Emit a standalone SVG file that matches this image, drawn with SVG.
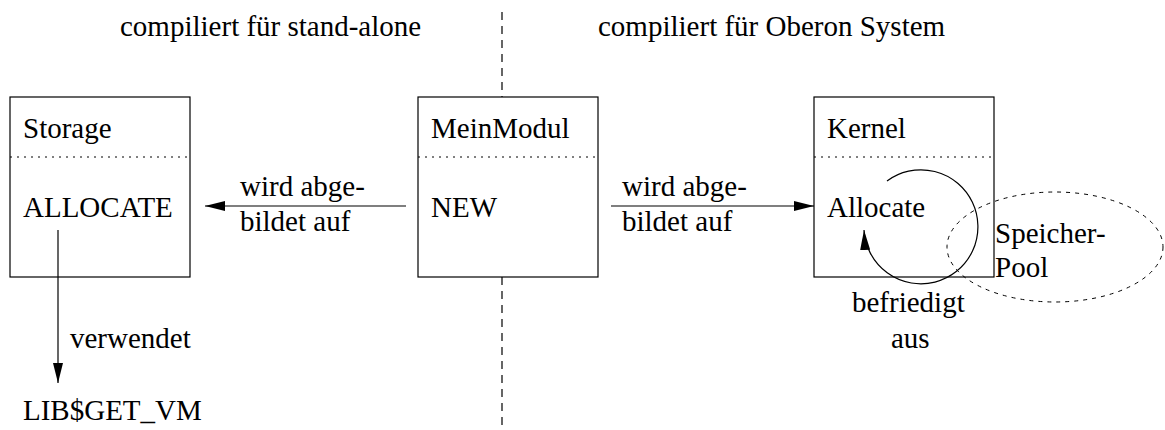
<svg xmlns="http://www.w3.org/2000/svg" width="1165" height="430" viewBox="0 0 1165 430">
<style>
.box{fill:none;stroke:#000;stroke-width:1.2}
.sep{fill:none;stroke:#000;stroke-width:1;stroke-dasharray:2 5}
.line{fill:none;stroke:#000;stroke-width:1.2}
.t{font-family:'Liberation Serif','Times New Roman',Times,serif;font-size:29px;fill:#000}
</style>
<defs>
<marker id="ah" viewBox="0 0 20 10" refX="20" refY="5" markerWidth="20" markerHeight="10" markerUnits="userSpaceOnUse" orient="auto">
<path d="M0,0 L20,5 L0,10 Z" fill="#000"/>
</marker>
</defs>
<rect width="1165" height="430" fill="#fff"/>
<g id="titles">
<text class="t" x="120" y="36">compiliert für stand-alone</text>
<text class="t" x="598" y="36">compiliert für Oberon System</text>
</g>
<g id="divider">
<line x1="502" y1="12" x2="502" y2="97" stroke="#000" stroke-width="1.2" stroke-dasharray="8 6"/>
<line x1="502" y1="277" x2="502" y2="430" stroke="#000" stroke-width="1.2" stroke-dasharray="8 6"/>
</g>
<g id="storage">
<rect class="box" x="10" y="97" width="180" height="180"/>
<line class="sep" x1="10" y1="157" x2="190" y2="157"/>
<text class="t" x="23" y="138">Storage</text>
<text class="t" x="23" y="217">ALLOCATE</text>
</g>
<g id="meinmodul">
<rect class="box" x="418" y="97" width="180" height="180"/>
<line class="sep" x1="418" y1="157" x2="598" y2="157"/>
<text class="t" x="431" y="138">MeinModul</text>
<text class="t" x="431" y="217">NEW</text>
</g>
<g id="kernel">
<rect class="box" x="814" y="97" width="180" height="180"/>
<line class="sep" x1="814" y1="157" x2="994" y2="157"/>
<text class="t" x="827" y="138">Kernel</text>
<text class="t" x="827" y="217">Allocate</text>
</g>
<g id="lib">
<text class="t" x="23" y="420">LIB$GET_VM</text>
</g>
<g id="pool">
<ellipse cx="1055" cy="247" rx="108" ry="55" fill="none" stroke="#000" stroke-width="1" stroke-dasharray="4 5"/>
<text class="t" x="995" y="243">Speicher-</text>
<text class="t" x="995" y="277">Pool</text>
</g>
<g id="connectors">
<line class="line" x1="406" y1="206" x2="205" y2="206" marker-end="url(#ah)"/>
<text class="t" x="240" y="196">wird abge-</text>
<text class="t" x="240" y="231">bildet auf</text>
<line class="line" x1="611" y1="206" x2="814" y2="206" marker-end="url(#ah)"/>
<text class="t" x="622" y="196">wird abge-</text>
<text class="t" x="622" y="231">bildet auf</text>
<line class="line" x1="58" y1="230" x2="58" y2="383" marker-end="url(#ah)"/>
<text class="t" x="70" y="348">verwendet</text>
<path class="line" d="M887,181 A57,57 0 1 1 864,230" marker-end="url(#ah)"/>
<text class="t" x="852" y="312">befriedigt</text>
<text class="t" x="891" y="348">aus</text>
</g>
</svg>
